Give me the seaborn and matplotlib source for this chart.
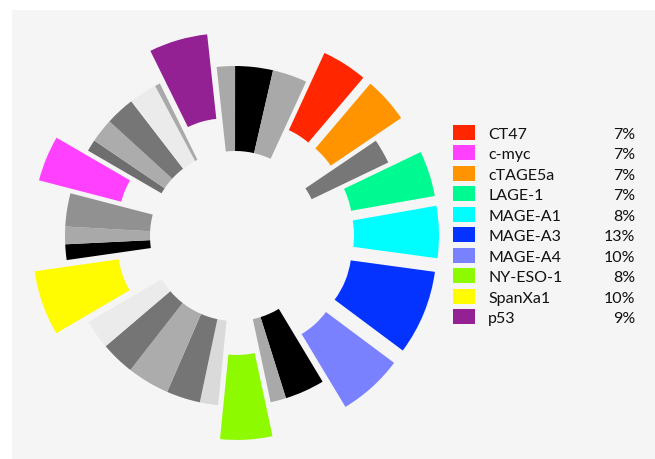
import matplotlib
matplotlib.use("Agg")
import matplotlib.pyplot as plt
from matplotlib.patches import Rectangle
import seaborn as sns

# Antigen shares listed in the legend (per cent)
antigens = ["CT47", "c-myc", "cTAGE5a", "LAGE-1", "MAGE-A1", "MAGE-A3",
            "MAGE-A4", "NY-ESO-1", "SpanXa1", "p53"]
antigen_pct = [7, 7, 7, 7, 8, 13, 10, 8, 10, 9]
antigen_colors = ["#ff2600", "#ff40ff", "#ff9300", "#00fa92", "#00fdff",
                  "#0433ff", "#7a81ff", "#8efa00", "#fffb00", "#942193"]

# Ring order, clockwise from the top; "" marks a grey filler segment
ring_order = ["", "", "", "CT47", "cTAGE5a", "", "LAGE-1", "MAGE-A1",
              "MAGE-A3", "MAGE-A4", "", "", "NY-ESO-1", "", "", "", "", "",
              "SpanXa1", "", "", "", "c-myc", "", "", "", "", "", "p53"]
filler_values = [2.8, 5.8, 5.3, 3.8, 6.1, 2.4, 2.8, 5.2, 6.5, 5.2, 4.5,
                 2.4, 2.7, 5.1, 1.8, 3.7, 4.5, 4.3, 0.8]
filler_colors = ["#a9a9a9", "#000000", "#a9a9a9", "#777777", "#000000",
                 "#a9a9a9", "#dadada", "#757575", "#acacac", "#757575",
                 "#ebebeb", "#000000", "#a9a9a9", "#919191", "#6e6e6e",
                 "#acacac", "#767676", "#ebebeb", "#a9a9a9"]

sns.set_theme(style="white")
plt.rcParams["font.family"] = ["Lato", "DejaVu Sans"]

W, H = 655, 459
fig = plt.figure(figsize=(W / 100, H / 100), dpi=100)
fig.patch.set_facecolor("white")

# light panel behind the chart
fig.add_artist(Rectangle((12 / W, 0), (W - 12) / W, (H - 10) / H,
                         transform=fig.transFigure, facecolor="#f5f5f5",
                         edgecolor="none", zorder=0))

# assemble ring segments
values, colors, explode = [], [], []
fi = 0
for name in ring_order:
    if name:
        k = antigens.index(name)
        values.append(antigen_pct[k])
        colors.append(antigen_colors[k])
        explode.append(0.2)
    else:
        values.append(filler_values[fi])
        colors.append(filler_colors[fi])
        explode.append(0.0)
        fi += 1

cx, cy, R, half = 235, 236, 170, 222
ax = fig.add_axes([(cx - half) / W, (H - cy - half) / H, 2 * half / W, 2 * half / H])
ax.patch.set_alpha(0)
ax.pie(values, colors=colors, explode=explode, startangle=96.2,
       counterclock=False, radius=1.0,
       wedgeprops=dict(width=0.5, linewidth=0, antialiased=True))
lim = half / R
ax.set_xlim(-lim, lim)
ax.set_ylim(-lim, lim)
ax.set_aspect("equal")
ax.axis("off")

# legend with per-cent column
row0, step = 132.5, 20.45
for i, (name, pct, col) in enumerate(zip(antigens, antigen_pct, antigen_colors)):
    yc = row0 + i * step
    fig.add_artist(Rectangle((453 / W, 1 - (yc + 7.5) / H), 22 / W, 15 / H,
                             transform=fig.transFigure, facecolor=col,
                             edgecolor="none"))
    fig.text(488 / W, 1 - (yc + 6.5) / H, name, fontsize=11.5,
             color="#111111", va="baseline", ha="left")
    fig.text(635.5 / W, 1 - (yc + 6.5) / H, f"{pct}%", fontsize=11.5,
             color="#111111", va="baseline", ha="right")

fig.savefig("out.png", dpi=100, facecolor="white")
